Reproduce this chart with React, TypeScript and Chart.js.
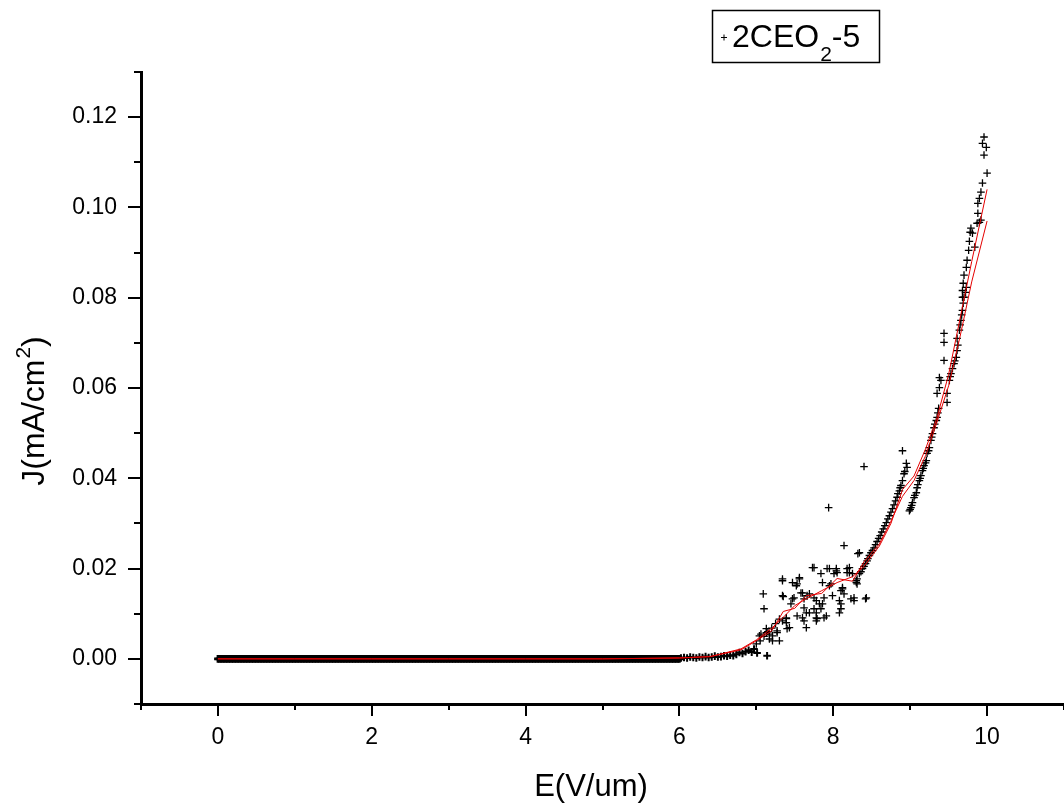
import React, { useEffect, useRef } from 'react';
import { Chart, registerables } from 'chart.js';

Chart.register(...registerables);

const FONT = '"Liberation Sans", Arial, Helvetica, sans-serif';

// ---- text ----
const xTitle = 'E(V/um)';
const yTitleMain = 'J(mA/cm';
const yTitleSup = '2';
const yTitleTail = ')';
const legendMain = '2CEO';
const legendSub = '2';
const legendTail = '-5';

// ---- axes ----
const xTickLabels = ['0', '2', '4', '6', '8', '10'];
const yTickLabels = ['0.00', '0.02', '0.04', '0.06', '0.08', '0.10', '0.12'];

// ---- scatter data: flat (near-zero) region ----
const flatE = [
  0, 0.02, 0.04, 0.06, 0.08, 0.1, 0.12, 0.14, 0.16, 0.18, 0.2, 0.22, 0.24, 0.26, 0.28, 0.3, 0.32, 0.34, 0.36, 0.38, 0.4, 0.42, 0.44, 0.46, 0.48, 0.5, 0.52, 0.54, 0.56, 0.58, 0.6, 0.62, 0.64, 0.66, 0.68, 0.7, 0.72, 0.74, 0.76, 0.78, 0.8, 0.82, 0.84, 0.86, 0.88, 0.9, 0.92, 0.94, 0.96, 0.98,
  1, 1.02, 1.04, 1.06, 1.08, 1.1, 1.12, 1.14, 1.16, 1.18, 1.2, 1.22, 1.24, 1.26, 1.28, 1.3, 1.32, 1.34, 1.36, 1.38, 1.4, 1.42, 1.44, 1.46, 1.48, 1.5, 1.52, 1.54, 1.56, 1.58, 1.6, 1.62, 1.64, 1.66, 1.68, 1.7, 1.72, 1.74, 1.76, 1.78, 1.8, 1.82, 1.84, 1.86, 1.88, 1.9, 1.92, 1.94, 1.96, 1.98,
  2, 2.02, 2.04, 2.06, 2.08, 2.1, 2.12, 2.14, 2.16, 2.18, 2.2, 2.22, 2.24, 2.26, 2.28, 2.3, 2.32, 2.34, 2.36, 2.38, 2.4, 2.42, 2.44, 2.46, 2.48, 2.5, 2.52, 2.54, 2.56, 2.58, 2.6, 2.62, 2.64, 2.66, 2.68, 2.7, 2.72, 2.74, 2.76, 2.78, 2.8, 2.82, 2.84, 2.86, 2.88, 2.9, 2.92, 2.94, 2.96, 2.98,
  3, 3.02, 3.04, 3.06, 3.08, 3.1, 3.12, 3.14, 3.16, 3.18, 3.2, 3.22, 3.24, 3.26, 3.28, 3.3, 3.32, 3.34, 3.36, 3.38, 3.4, 3.42, 3.44, 3.46, 3.48, 3.5, 3.52, 3.54, 3.56, 3.58, 3.6, 3.62, 3.64, 3.66, 3.68, 3.7, 3.72, 3.74, 3.76, 3.78, 3.8, 3.82, 3.84, 3.86, 3.88, 3.9, 3.92, 3.94, 3.96, 3.98,
  4, 4.02, 4.04, 4.06, 4.08, 4.1, 4.12, 4.14, 4.16, 4.18, 4.2, 4.22, 4.24, 4.26, 4.28, 4.3, 4.32, 4.34, 4.36, 4.38, 4.4, 4.42, 4.44, 4.46, 4.48, 4.5, 4.52, 4.54, 4.56, 4.58, 4.6, 4.62, 4.64, 4.66, 4.68, 4.7, 4.72, 4.74, 4.76, 4.78, 4.8, 4.82, 4.84, 4.86, 4.88, 4.9, 4.92, 4.94, 4.96, 4.98,
  5, 5.02, 5.04, 5.06, 5.08, 5.1, 5.12, 5.14, 5.16, 5.18, 5.2, 5.22, 5.24, 5.26, 5.28, 5.3, 5.32, 5.34, 5.36, 5.38, 5.4, 5.42, 5.44, 5.46, 5.48, 5.5, 5.52, 5.54, 5.56, 5.58, 5.6, 5.62, 5.64, 5.66, 5.68, 5.7, 5.72, 5.74, 5.76, 5.78, 5.8, 5.82, 5.84, 5.86, 5.88, 5.9, 5.92, 5.94, 5.96, 5.98,
  6,
];
const flatJ = [
  0, 0, 0, 0, 0, 0, 0, 0, 0, 0, 0, 0, 0, 0, 0, 0, 0, 0, 0, 0, 0, 0, 0, 0, 0, 0, 0, 0, 0, 0, 0, 0, 0, 0, 0, 0, 0, 0, 0, 0, 0, 0, 0, 0, 0, 0, 0, 0, 0, 0,
  0, 0, 0, 0, 0, 0, 0, 0, 0, 0, 0, 0, 0, 0, 0, 0, 0, 0, 0, 0, 0, 0, 0, 0, 0, 0, 0, 0, 0, 0, 0, 0, 0, 0, 0, 0, 0, 0, 0, 0, 0, 0, 0, 0, 0, 0, 0, 0, 0, 0,
  0, 0, 0, 0, 0, 0, 0, 0, 0, 0, 0, 0, 0, 0, 0, 0, 0, 0, 0, 0, 0, 0, 0, 0, 0, 0, 0, 0, 0, 0, 0, 0, 0, 0, 0, 0, 0, 0, 0, 0, 0, 0, 0, 0, 0, 0, 0, 0, 0, 0,
  0, 0, 0, 0, 0, 0, 0, 0, 0, 0, 0, 0, 0, 0, 0, 0, 0, 0, 0, 0, 0, 0, 0, 0, 0, 0, 0, 0, 0, 0, 0, 0, 0, 0, 0, 0, 0, 0, 0, 0, 0, 0, 0, 0, 0, 0, 0, 0, 0, 0,
  0, 0, 0, 0, 0, 0, 0, 0, 0, 0, 0, 0, 0, 0, 0, 0, 0, 0, 0, 0, 0, 0, 0, 0, 0, 0, 0, 0, 0, 0, 0, 0, 0, 0, 0, 0, 0, 0, 0, 0, 0, 0, 0, 0, 0, 0, 0, 0, 0, 0,
  0, 0, 0, 0, 0, 0, 0, 0, 0, 0, 0, 0, 0, 0, 0, 0, 0, 0, 0, 0, 0, 0, 0, 0, 0, 0, 0, 0, 0, 0, 0, 0, 0, 0, 0, 0, 0, 0, 0, 0, 0, 0, 0, 0, 0, 0, 0, 0, 0, 0,
  0,
];

// ---- scatter data: onset and rising region ----
const riseE = [
  // onset
  6.02, 6.06, 6.1, 6.14, 6.18, 6.22, 6.26, 6.3, 6.34, 6.38, 6.42, 6.46, 6.5, 6.54, 6.58, 6.62, 6.66, 6.7, 6.74, 6.78, 6.82, 6.86, 6.9, 6.94,
  // 7.0 - 7.3
  6.97, 7.0, 7.01, 7.04, 7.05, 7.06, 7.09, 7.1, 7.1, 7.13, 7.13, 7.14, 7.15, 7.17, 7.17, 7.2, 7.21, 7.21, 7.25, 7.27, 7.27, 7.3, 7.3,
  // 7.3 - 7.7
  7.34, 7.35, 7.34, 7.34, 7.34, 7.39, 7.39, 7.39, 7.4, 7.43, 7.45, 7.47, 7.47, 7.49, 7.52, 7.53, 7.53, 7.56, 7.56, 7.58, 7.6, 7.6, 7.62, 7.62, 7.62, 7.65, 7.65, 7.66, 7.69, 7.69,
  // 7.7 - 8.45
  7.73, 7.75, 7.75, 7.75, 7.78, 7.78, 7.78, 7.78, 7.79, 7.82, 7.84, 7.84, 7.86, 7.86, 7.88, 7.88, 7.91, 7.92, 7.94, 7.95, 7.95, 7.97, 7.99, 8.01, 8.04, 8.04, 8.05, 8.08, 8.08, 8.1, 8.1, 8.1, 8.12, 8.12, 8.14, 8.14, 8.18, 8.18, 8.21, 8.21, 8.23, 8.25, 8.27, 8.27, 8.3, 8.3, 8.31, 8.31, 8.32, 8.34, 8.4, 8.42, 8.43,
  // main chain 8.34 - 8.87
  8.34, 8.36, 8.38, 8.4, 8.42, 8.44, 8.45, 8.47, 8.49, 8.51, 8.53, 8.55, 8.57, 8.59, 8.61, 8.63, 8.65, 8.67, 8.69, 8.71, 8.73, 8.75, 8.77, 8.79, 8.81, 8.83, 8.84, 8.86, 8.87,
  // upper-left group near 8.9
  8.88, 8.9, 8.92, 8.93, 8.95, 8.96, 8.9,
  // lower branch 9.0 - 9.37
  8.99, 9.0, 9.01, 9.02, 9.03, 9.05, 9.06, 9.08, 9.09, 9.1, 9.12, 9.13, 9.14, 9.16, 9.17, 9.18, 9.2, 9.21, 9.22, 9.24, 9.25, 9.27, 9.28, 9.29, 9.31, 9.32, 9.34, 9.35, 9.36, 9.37,
  // 9.35 - 9.73
  9.35, 9.38, 9.38, 9.4, 9.44, 9.44, 9.44, 9.48, 9.48, 9.51, 9.52, 9.53, 9.55, 9.57, 9.58, 9.6, 9.61, 9.61, 9.62, 9.64, 9.65, 9.66, 9.67, 9.68, 9.69, 9.7, 9.72, 9.73,
  // top
  9.68, 9.68, 9.69, 9.7, 9.73, 9.74, 9.76, 9.77, 9.78, 9.79, 9.81, 9.84, 9.87, 9.88, 9.88, 9.9, 9.9, 9.92, 9.92, 9.94, 9.94, 9.96, 9.96, 9.99, 10.0,
];
const riseJ = [
  0.0002, 0.0003, 0.0002, 0.0004, 0.0003, 0.0002, 0.0004, 0.0003, 0.0005, 0.0003, 0.0004, 0.0006, 0.0004, 0.0005, 0.0007, 0.0006, 0.0008, 0.0007, 0.001, 0.0014, 0.0012, 0.0016, 0.0019, 0.0015,
  0.0022, 0.0033, 0.0013, 0.0051, 0.004, 0.0055, 0.0144, 0.0111, 0.005, 0.0058, 0.0067, 0.0007, 0.006, 0.0044, 0.0055, 0.0068, 0.0051, 0.004, 0.0078, 0.0058, 0.0062, 0.004, 0.0088,
  0.0173, 0.0138, 0.014, 0.0084, 0.0177, 0.008, 0.0089, 0.0091, 0.0067, 0.0069, 0.0122, 0.0169, 0.0133, 0.0135, 0.0162, 0.0166, 0.0095, 0.0177, 0.018, 0.0146, 0.0146, 0.0091, 0.0113, 0.0084, 0.0133, 0.0069, 0.0102, 0.014, 0.0102, 0.0144,
  0.0202, 0.0111, 0.0202, 0.0135, 0.0084, 0.0129, 0.0102, 0.0091, 0.0089, 0.0122, 0.0189, 0.0111, 0.0169, 0.0122, 0.0091, 0.0135, 0.0095, 0.02, 0.0335, 0.02, 0.0162, 0.0166, 0.014, 0.0189, 0.0195, 0.02, 0.0191, 0.0129, 0.0102, 0.0151, 0.0111, 0.0122, 0.0158, 0.0155, 0.0144, 0.0251, 0.0191, 0.02, 0.0202, 0.0191, 0.0133, 0.0189, 0.0135, 0.0129, 0.0169, 0.0173, 0.0177, 0.0166, 0.0233, 0.0235, 0.0426, 0.0133, 0.0135,
  0.0189, 0.0193, 0.02, 0.0205, 0.0211, 0.0217, 0.0222, 0.0229, 0.0235, 0.024, 0.0246, 0.0253, 0.026, 0.0267, 0.0273, 0.0281, 0.0288, 0.0295, 0.0302, 0.031, 0.0317, 0.0325, 0.0333, 0.0341, 0.035, 0.0358, 0.0366, 0.0372, 0.0379,
  0.0384, 0.0395, 0.041, 0.0415, 0.0433, 0.0424, 0.0461,
  0.0328, 0.0331, 0.0335, 0.034, 0.0346, 0.0357, 0.0362, 0.0368, 0.0379, 0.0386, 0.0395, 0.04, 0.0406, 0.0417, 0.0422, 0.0428, 0.0434, 0.0439, 0.0455, 0.0461, 0.0468, 0.0484, 0.0491, 0.0499, 0.0512, 0.052, 0.0528, 0.0535, 0.0545, 0.0555,
  0.0588, 0.0601, 0.0623, 0.0617, 0.0661, 0.0701, 0.0721, 0.0568, 0.0588, 0.0617, 0.0625, 0.0632, 0.0643, 0.0654, 0.066, 0.0668, 0.0683, 0.071, 0.0695, 0.0728, 0.074, 0.075, 0.0762, 0.0772, 0.0788, 0.0801, 0.0812, 0.0823,
  0.0801, 0.0816, 0.0832, 0.085, 0.0867, 0.0883, 0.0905, 0.0925, 0.0945, 0.0954, 0.0943, 0.0912, 0.0965, 0.0987, 0.1009, 0.0967, 0.102, 0.0972, 0.1034, 0.1054, 0.1142, 0.1116, 0.1156, 0.1133, 0.1076,
];

// ---- red fitted curves ----
const redE = [0, 1, 2, 3, 4, 5, 6, 6.4, 6.8, 7.0, 7.2, 7.35, 7.5, 7.65, 7.85, 8.05, 8.25, 8.4, 8.6, 8.75, 8.9, 9.05, 9.2, 9.35, 9.5, 9.65, 9.8, 10.0];
const redJA = [0, 0, 0, 0, 0, 0, 0.0002, 0.0005, 0.0022, 0.0042, 0.0068, 0.0092, 0.0118, 0.0133, 0.0151, 0.0169, 0.0182, 0.0205, 0.025, 0.03, 0.0375, 0.0405, 0.0465, 0.0535, 0.063, 0.0755, 0.088, 0.104];
const redJB = [0, 0, 0, 0, 0, 0, 0.0002, 0.0005, 0.002, 0.004, 0.0062, 0.0105, 0.0112, 0.014, 0.0145, 0.0178, 0.0172, 0.0215, 0.0255, 0.0305, 0.036, 0.0395, 0.045, 0.0525, 0.0605, 0.0715, 0.0835, 0.097];

const isXMajor = (v: number) => xTickLabels.includes(String(Math.round(v * 1000) / 1000));
const yLabelOf = (v: number) => (Math.round(v * 10000) / 10000).toFixed(2);
const isYMajor = (v: number) => yTickLabels.includes(yLabelOf(v));

const decorPlugin = {
  id: 'decor',
  afterDraw(chart: any) {
    const { ctx, chartArea, scales } = chart;
    const xs = scales.x;
    const ys = scales.y;
    ctx.save();
    // tick marks (major + minor)
    ctx.strokeStyle = '#000';
    ctx.lineWidth = 2;
    ctx.beginPath();
    xs.ticks.forEach((t: any) => {
      const px = Math.round(xs.getPixelForValue(t.value));
      const len = isXMajor(t.value) ? 12 : 6;
      ctx.moveTo(px, chartArea.bottom);
      ctx.lineTo(px, chartArea.bottom + len);
    });
    ys.ticks.forEach((t: any) => {
      const py = Math.round(ys.getPixelForValue(t.value));
      const len = isYMajor(t.value) ? 13 : 7;
      ctx.moveTo(chartArea.left, py);
      ctx.lineTo(chartArea.left - len, py);
    });
    ctx.stroke();

    // axis titles
    ctx.fillStyle = '#000';
    ctx.font = `31px ${FONT}`;
    ctx.textAlign = 'center';
    ctx.textBaseline = 'alphabetic';
    ctx.fillText(xTitle, 591, 796);

    ctx.save();
    ctx.font = `32px ${FONT}`;
    const wMain = ctx.measureText(yTitleMain).width;
    const wTail = ctx.measureText(yTitleTail).width;
    ctx.font = `21px ${FONT}`;
    const wSup = ctx.measureText(yTitleSup).width;
    const total = wMain + wSup + wTail + 1;
    ctx.translate(44, 411);
    ctx.rotate(-Math.PI / 2);
    ctx.textAlign = 'left';
    let ty = -total / 2;
    ctx.font = `32px ${FONT}`;
    ctx.fillText(yTitleMain, ty, 0);
    ty += wMain + 1;
    ctx.font = `21px ${FONT}`;
    ctx.fillText(yTitleSup, ty, -14);
    ty += wSup;
    ctx.font = `32px ${FONT}`;
    ctx.fillText(yTitleTail, ty, 0);
    ctx.restore();

    // legend box
    const bx = 712, by = 10, bw = 167, bh = 52;
    ctx.lineWidth = 1.5;
    ctx.strokeStyle = '#000';
    ctx.strokeRect(bx + 0.5, by + 0.5, bw, bh);
    // legend marker (+)
    ctx.lineWidth = 1;
    ctx.beginPath();
    ctx.moveTo(721, 37.5); ctx.lineTo(727, 37.5);
    ctx.moveTo(724, 34.5); ctx.lineTo(724, 40.5);
    ctx.stroke();
    // legend text
    ctx.textAlign = 'left';
    ctx.font = `32px ${FONT}`;
    let tx = 732;
    ctx.fillText(legendMain, tx, 47);
    tx += ctx.measureText(legendMain).width + 1;
    ctx.font = `21px ${FONT}`;
    ctx.fillText(legendSub, tx, 61);
    tx += ctx.measureText(legendSub).width;
    ctx.font = `32px ${FONT}`;
    ctx.fillText(legendTail, tx, 47);
    ctx.restore();
  },
};

export default function App() {
  const ref = useRef<HTMLCanvasElement>(null);

  useEffect(() => {
    const canvas = ref.current;
    if (!canvas) return;
    const points = [
      ...flatE.map((e, i) => ({ x: e, y: flatJ[i] })),
      ...riseE.map((e, i) => ({ x: e, y: riseJ[i] })),
    ];
    const crossWidth = (c: any) => {
      const y = c.raw ? c.raw.y : 1;
      if (y === 0) return 2.6;
      if (y < 0.0025) return 2.0;
      return 1.3;
    };
    const chart = new Chart(canvas, {
      type: 'scatter',
      data: {
        datasets: [
          {
            type: 'line',
            label: 'fit A',
            data: redE.map((e, i) => ({ x: e, y: redJA[i] })),
            borderColor: '#e40000',
            borderWidth: 1,
            pointRadius: 0,
            fill: false,
            tension: 0,
            order: 0,
          } as any,
          {
            type: 'line',
            label: 'fit B',
            data: redE.map((e, i) => ({ x: e, y: redJB[i] })),
            borderColor: '#e40000',
            borderWidth: 1,
            pointRadius: 0,
            fill: false,
            tension: 0,
            order: 0,
          } as any,
          {
            label: '2CEO2-5',
            data: points,
            pointStyle: 'cross',
            pointRadius: 3.8,
            borderWidth: crossWidth,
            pointBorderWidth: crossWidth,
            borderColor: '#000',
            backgroundColor: '#000',
            order: 1,
          } as any,
        ],
      },
      options: {
        responsive: false,
        animation: false,
        devicePixelRatio: 1,
        layout: { autoPadding: false, padding: { top: 72, left: 0, right: 0, bottom: 0 } },
        plugins: {
          legend: { display: false },
          tooltip: { enabled: false },
          title: { display: false },
        },
        scales: {
          x: {
            type: 'linear',
            min: -1,
            max: 11,
            afterFit: (s: any) => { s.height = 107; s.paddingLeft = 0; s.paddingRight = 0; },
            border: { display: true, color: '#000', width: 3 },
            grid: { display: true, drawOnChartArea: false, drawTicks: true, tickLength: 10, color: 'rgba(0,0,0,0)', tickColor: 'rgba(0,0,0,0)' },
            ticks: {
              stepSize: 1,
              autoSkip: false,
              maxRotation: 0,
              padding: 10,
              color: '#000',
              font: { family: FONT, size: 23 },
              callback: (v: any) => (isXMajor(Number(v)) ? String(Math.round(Number(v))) : ''),
            },
          },
          y: {
            type: 'linear',
            min: -0.01,
            max: 0.13,
            afterFit: (s: any) => { s.width = 141; s.paddingTop = 0; s.paddingBottom = 0; },
            border: { display: true, color: '#000', width: 3 },
            grid: { display: true, drawOnChartArea: false, drawTicks: true, tickLength: 10, color: 'rgba(0,0,0,0)', tickColor: 'rgba(0,0,0,0)' },
            ticks: {
              stepSize: 0.01,
              autoSkip: false,
              padding: 14,
              color: '#000',
              font: { family: FONT, size: 23 },
              callback: (v: any) => (isYMajor(Number(v)) ? yLabelOf(Number(v)) : ''),
            },
          },
        },
      } as any,
      plugins: [decorPlugin],
    });
    return () => chart.destroy();
  }, []);

  return (
    <div style={{ position: 'fixed', left: 0, top: 0, width: 1064, height: 811, background: '#fff' }}>
      <canvas ref={ref} width={1064} height={811} style={{ display: 'block', width: 1064, height: 811 }} />
    </div>
  );
}
